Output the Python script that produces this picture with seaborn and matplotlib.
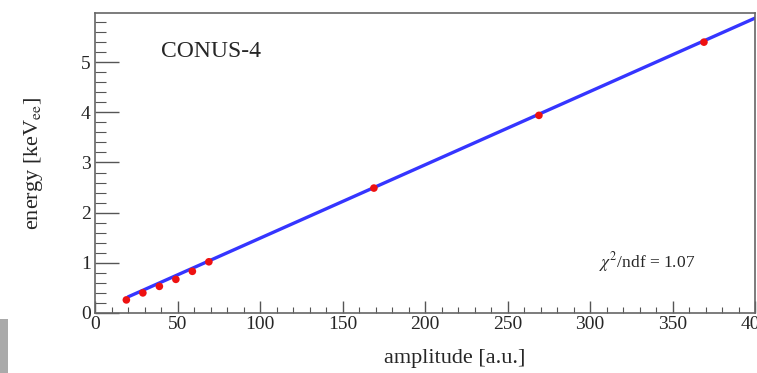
import matplotlib
matplotlib.use("Agg")
import matplotlib.pyplot as plt
from matplotlib.ticker import MultipleLocator
from matplotlib.patches import Rectangle
import seaborn as sns
import pandas as pd

# calibration points
amplitude = [19, 29, 39, 49, 59, 69, 169, 269, 369]
energy = [0.26, 0.40, 0.53, 0.67, 0.83, 1.02, 2.49, 3.94, 5.40]

# fitted line, end points
fit_amplitude = [20, 400]
fit_energy = [0.32, 5.88]

sns.set_style("ticks")
plt.rcParams['font.family'] = ['Liberation Serif', 'DejaVu Serif']
plt.rcParams['mathtext.fontset'] = 'stix'

fig = plt.figure(figsize=(7.57, 3.73), dpi=100)
ax = fig.add_axes([0.1255, 0.161, 0.872, 0.804])

pts = pd.DataFrame({"amplitude": amplitude, "energy": energy})
fit = pd.DataFrame({"amplitude": fit_amplitude, "energy": fit_energy})

sns.lineplot(data=fit, x="amplitude", y="energy", color="#3535ff", linewidth=2.4, ax=ax, zorder=2)
sns.scatterplot(data=pts, x="amplitude", y="energy", color="#ee1111", s=30, edgecolor="none", ax=ax, zorder=3)

ax.set_xlim(0, 400)
ax.set_ylim(0, 5.98)
ax.xaxis.set_major_locator(MultipleLocator(50))
ax.xaxis.set_minor_locator(MultipleLocator(10))
ax.yaxis.set_major_locator(MultipleLocator(1))
ax.yaxis.set_minor_locator(MultipleLocator(0.2))
ax.tick_params(which="both", direction="in", top=False, right=False, labelsize=14, color="#555555")
ax.tick_params(axis="x", which="major", length=9, width=1.0, pad=2)
ax.tick_params(axis="x", which="minor", length=4.5, width=0.8)
ax.tick_params(axis="y", which="major", length=17, width=1.0, pad=3)
ax.tick_params(axis="y", which="minor", length=8, width=0.8)
for s in ax.spines.values():
    s.set_color("#666666")
    s.set_linewidth(1.2)

ax.set_xlabel("amplitude [a.u.]", fontsize=16)
ax.set_ylabel(r"energy [keV$_{\mathrm{ee}}$]", fontsize=16)
ax.xaxis.set_label_coords(0.545, -0.12)
ax.yaxis.set_label_coords(-0.075, 0.5)

ax.text(0.10, 0.855, "CONUS-4", transform=ax.transAxes, fontsize=17)
ax.text(0.763, 0.152, r"$\chi^2$/ndf = 1.07", transform=ax.transAxes, fontsize=12.5)

fig.patches.append(Rectangle((0, 0), 0.011, 0.145, transform=fig.transFigure,
                             facecolor="#aaaaaa", edgecolor="none"))

fig.savefig("out.png", dpi=100)
